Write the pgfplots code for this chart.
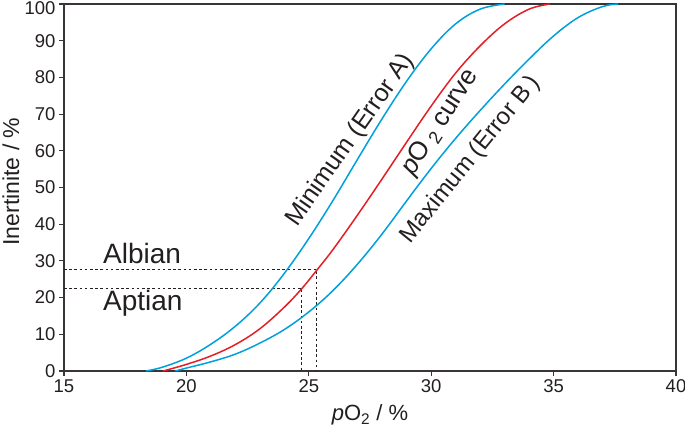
\documentclass[border=0pt]{standalone}
\usepackage{fontspec}
\setmainfont{Liberation Sans}
\usepackage{pgfplots}
\pgfplotsset{compat=1.18}
\definecolor{cblue}{RGB}{0,160,220}
\definecolor{cred}{RGB}{228,30,38}
\definecolor{ctxt}{RGB}{35,31,32}
\begin{document}
\begin{tikzpicture}
\begin{axis}[
  scale only axis,
  width=612pt, height=367pt,
  xmin=15, xmax=40, ymin=0, ymax=100,
  xtick={15,20,...,40}, ytick={0,10,...,90},
  extra y ticks={100},
  extra y tick style={yticklabel style={yshift=-4pt}},
  tick align=outside, major tick length=5pt,
  xtick pos=bottom, ytick pos=left,
  axis line style={line width=1.3pt, color=ctxt!90},
  tick style={line width=1.1pt, color=ctxt!90},
  /pgf/number format/assume math mode=true,
  ticklabel style={font=\fontsize{18.5}{20}\selectfont, text=ctxt},
  xlabel={\textit{p}O\textsubscript{2} / \%},
  ylabel={Inertinite / \%},
  every axis x label/.style={at={(axis description cs:0.5,-0.136)}, anchor=base, font=\fontsize{22}{24}\selectfont, text=ctxt},
  every axis y label/.style={at={(axis description cs:-0.0866,0.516)}, rotate=90, anchor=center, font=\fontsize{23}{25}\selectfont, text=ctxt},
  clip=false,
]
% dotted guide lines
\addplot[line width=1.1pt, ctxt, dash pattern=on 2.6pt off 2.6pt] coordinates {(15,27.7) (25.33,27.7) (25.33,0)};
\addplot[line width=1.1pt, ctxt, dash pattern=on 2.6pt off 2.6pt] coordinates {(15,22.5) (24.72,22.5) (24.72,0)};
% Minimum (Error A)
\addplot[cblue, line width=1.5pt, smooth, tension=0.6] coordinates {
(18.35,0) (19,1.0) (20,3.5) (21,7.3) (22,12.2) (23,18.5) (24,26.6) (25,36.1) (26,46.6) (27,57.8) (28,68.8) (29,79.0) (30,87.8) (31,94.6) (32,98.6) (33,100)};
% pO2 curve
\addplot[cred, line width=1.5pt, smooth, tension=0.6] coordinates {
(19.05,0) (20,1.8) (21,4.1) (22,7.2) (23,11.5) (24,17.4) (24.72,22.5) (25.33,27.5) (26,33.2) (27,42.6) (28,52.4) (29,62.4) (30,72.2) (31,81.2) (32,88.6) (33,94.6) (34,98.6) (34.85,100)};
% Maximum (Error B)
\addplot[cblue, line width=1.5pt, smooth, tension=0.6] coordinates {
(19.55,0) (20,0.8) (21,2.5) (22,4.6) (23,7.6) (24,11.3) (25,16.1) (26,22.0) (27,29.2) (28,37.4) (29,46.4) (30,55.2) (31,63.4) (32,71.0) (33,78.2) (34,85.0) (35,91.3) (36,96.3) (37,99.3) (37.64,100)};
% labels
\node[anchor=base west, inner sep=0pt, font=\fontsize{28}{30}\selectfont, text=ctxt] at (axis cs:16.59,29.35) {Albian};
\node[anchor=base west, inner sep=0pt, font=\fontsize{28}{30}\selectfont, text=ctxt] at (axis cs:16.59,16.6) {Aptian};
\node[rotate=55, font=\fontsize{25}{27}\selectfont, text=ctxt, inner sep=0pt] at (axis cs:26.70,62.9) {Minimum (Error A)};
\node[rotate=57, font=\fontsize{26}{28}\selectfont, text=ctxt, inner sep=0pt] at (axis cs:30.38,67.8) {\textit{p}O\,\textsubscript{2} curve};
\node[rotate=51, font=\fontsize{24}{26}\selectfont, text=ctxt, inner sep=0pt] at (axis cs:31.6,57.5) {Maximum (Error B\,)};
\end{axis}
\pgfresetboundingbox
\path ([shift={(-64pt,-62pt)}]current axis.south west) rectangle ([shift={(9pt,4pt)}]current axis.north east);
\end{tikzpicture}
\end{document}
